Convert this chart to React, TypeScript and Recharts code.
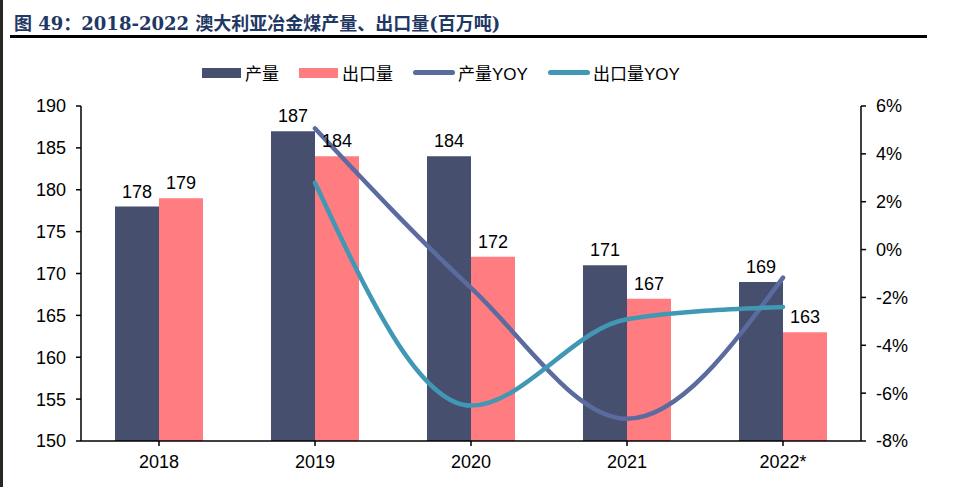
import React from 'react';
import { ComposedChart, Bar, Line, XAxis, YAxis, LabelList } from 'recharts';

const years = ['2018', '2019', '2020', '2021', '2022*'];
const output = [178, 187, 184, 171, 169];
const exports = [179, 184, 172, 167, 163];
const outputYoy = [null, 5.06, -1.6, -7.07, -1.17];
const exportYoy = [null, 2.79, -6.52, -2.91, -2.4];
const leftTicks = [150, 155, 160, 165, 170, 175, 180, 185, 190];
const rightTicks = [-8, -6, -4, -2, 0, 2, 4, 6];

const data = years.map((y, i) => ({
  year: y,
  output: output[i],
  exports: exports[i],
  outputYoy: outputYoy[i],
  exportYoy: exportYoy[i],
}));

const C_OUT = '#46506E';
const C_EXP = '#FF7C80';
const C_OUT_YOY = '#5B6B9F';
const C_EXP_YOY = '#4198B5';

const font = 'Arial, "Liberation Sans", "Noto Sans CJK SC", sans-serif';
const tick = { fill: '#000', fontSize: 18, fontFamily: font };
const axisLine = { stroke: '#000', strokeWidth: 1.5 };

const legendItems = [
  { name: '产量', color: C_OUT, kind: 'bar' },
  { name: '出口量', color: C_EXP, kind: 'bar' },
  { name: '产量YOY', color: C_OUT_YOY, kind: 'line' },
  { name: '出口量YOY', color: C_EXP_YOY, kind: 'line' },
];

const App = () => {
  return (
    <div style={{ position: 'absolute', left: 0, top: 0, width: 953, height: 487, background: '#fff', overflow: 'hidden' }}>
      <div style={{ position: 'absolute', left: 0, top: 0, width: 3, height: 487, background: '#2a2622' }} />
      <div
        style={{
          position: 'absolute',
          left: 14,
          top: 9,
          fontSize: 18,
          fontWeight: 'bold',
          color: '#1F3864',
          fontFamily: '"DejaVu Serif", "Noto Sans CJK SC", serif',
          whiteSpace: 'nowrap',
        }}
      >
        图 49：2018-2022 澳大利亚冶金煤产量、出口量(百万吨)
      </div>
      <div style={{ position: 'absolute', left: 10, top: 35, width: 917, height: 3, background: '#000' }} />
      <div
        style={{
          position: 'absolute',
          left: 202,
          top: 60,
          display: 'flex',
          alignItems: 'center',
          fontFamily: font,
          fontSize: 17,
          color: '#000',
        }}
      >
        {legendItems.map((it) => (
          <div key={it.name} style={{ display: 'flex', alignItems: 'center', marginRight: 20 }}>
            {it.kind === 'bar' ? (
              <div style={{ width: 39, height: 10, background: it.color, marginRight: 4 }} />
            ) : (
              <div style={{ width: 42, height: 5, borderRadius: 3, background: it.color, marginRight: 3 }} />
            )}
            <span>{it.name}</span>
          </div>
        ))}
      </div>
      <div style={{ position: 'absolute', left: 0, top: 0 }}>
        <ComposedChart
          width={953}
          height={487}
          data={data}
          margin={{ top: 106, right: 32, bottom: 14, left: 31 }}
          barGap={0}
        >
          <XAxis
            dataKey="year"
            tick={tick}
            axisLine={axisLine}
            tickLine={{ stroke: '#000', strokeWidth: 1.5 }}
            tickSize={5}
            tickMargin={9}
            height={32}
            interval={0}
          />
          <YAxis
            yAxisId="left"
            domain={[150, 190]}
            ticks={leftTicks}
            tick={tick}
            axisLine={axisLine}
            tickLine={{ stroke: '#000', strokeWidth: 1.5 }}
            tickSize={5}
            tickMargin={10}
            width={50}
            interval={0}
          />
          <YAxis
            yAxisId="right"
            orientation="right"
            domain={[-8, 6]}
            ticks={rightTicks}
            tickFormatter={(v: number) => `${v}%`}
            tick={tick}
            axisLine={axisLine}
            tickLine={{ stroke: '#000', strokeWidth: 1.5 }}
            tickSize={5}
            tickMargin={10}
            width={60}
            interval={0}
          />
          <Bar yAxisId="left" dataKey="output" fill={C_OUT} barSize={44} isAnimationActive={false}>
            <LabelList dataKey="output" position="top" offset={9} fill="#000" fontSize={18} fontFamily={font} />
          </Bar>
          <Bar yAxisId="left" dataKey="exports" fill={C_EXP} barSize={44} isAnimationActive={false}>
            <LabelList dataKey="exports" position="top" offset={9} fill="#000" fontSize={18} fontFamily={font} />
          </Bar>
          <Line
            yAxisId="right"
            type="monotone"
            dataKey="outputYoy"
            stroke={C_OUT_YOY}
            strokeWidth={4.5}
            strokeLinecap="round"
            dot={false}
            activeDot={false}
            isAnimationActive={false}
          />
          <Line
            yAxisId="right"
            type="monotone"
            dataKey="exportYoy"
            stroke={C_EXP_YOY}
            strokeWidth={4.5}
            strokeLinecap="round"
            dot={false}
            activeDot={false}
            isAnimationActive={false}
          />
        </ComposedChart>
      </div>
    </div>
  );
};

export default App;
